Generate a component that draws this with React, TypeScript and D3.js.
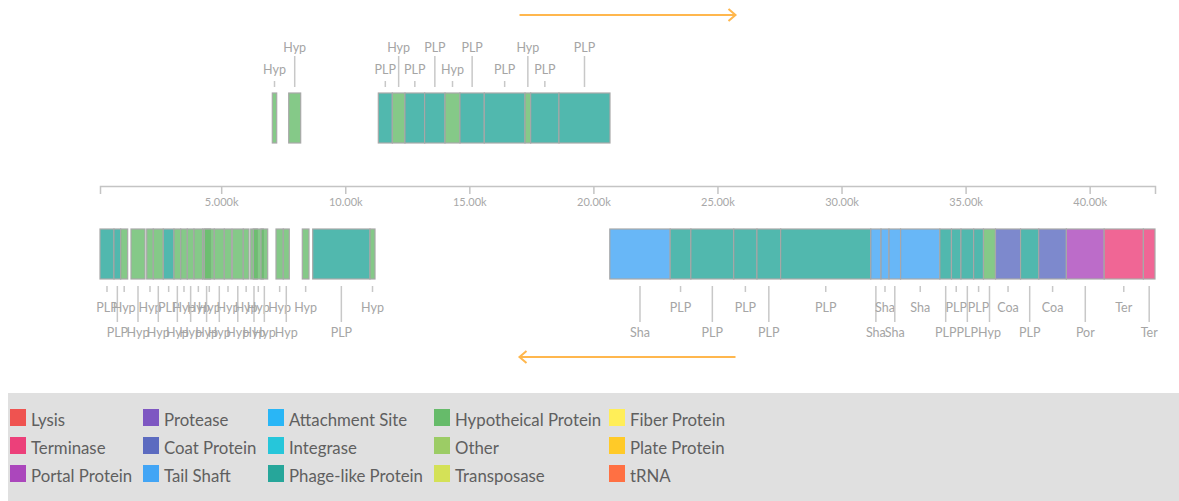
import React, { useEffect, useRef } from 'react';
import * as d3 from 'd3';

// genome span (bp)
const genomeStart = 116;
const genomeEnd = 42633;

// forward strand genes
const fwdStart = [7060, 7721, 11332, 11896, 12407, 13201, 14020, 14624, 15603, 17244, 17473, 18614];
const fwdEnd = [7237, 8204, 11896, 12407, 13201, 14020, 14624, 15603, 17244, 17473, 18614, 20669];
const fwdType = ['hyp', 'hyp', 'plp', 'hyp', 'plp', 'plp', 'hyp', 'plp', 'plp', 'hyp', 'plp', 'plp'];

// reverse strand genes
const revStart = [
  116, 680, 950, 1365, 1998, 2264, 2667, 3098, 3368, 3634, 3904, 4255, 4319, 4722, 5125, 5448, 5891, 6189, 6294, 6604,
  7209, 7503, 8269, 8688, 10997,
  20661, 23095, 23929, 25658, 26593, 27548, 31179, 31590, 31913, 32380, 33964, 34431, 34814, 35326, 35721, 36205,
  37216, 37950, 39062, 40585, 42165,
];
const revEnd = [
  680, 950, 1232, 1930, 2264, 2667, 3098, 3368, 3634, 3904, 4255, 4569, 4722, 5125, 5424, 5891, 6121, 6455, 6697, 6874,
  7503, 7745, 8539, 10997, 11199,
  23095, 23929, 25658, 26593, 27548, 31179, 31590, 31913, 32380, 33964, 34431, 34814, 35326, 35721, 36205, 37216,
  37950, 39062, 40585, 42165, 42633,
];
const revType = [
  'plp', 'plp', 'hyp', 'hyp', 'hyp', 'hyp', 'plp', 'hyp', 'hyp', 'hyp', 'hyp', 'hyp', 'hyp', 'hyp', 'hyp', 'hyp', 'hyp',
  'hyp', 'hyp', 'hyp', 'hyp', 'hyp', 'hyp', 'plp', 'hyp',
  'sha', 'plp', 'plp', 'plp', 'plp', 'plp', 'sha', 'sha', 'sha', 'sha', 'plp', 'plp', 'plp', 'plp', 'hyp', 'coa',
  'plp', 'coa', 'por', 'ter', 'ter',
];

// legend
const legendNames = [
  'Lysis', 'Terminase', 'Portal Protein',
  'Protease', 'Coat Protein', 'Tail Shaft',
  'Attachment Site', 'Integrase', 'Phage-like Protein',
  'Hypotheical Protein', 'Other', 'Transposase',
  'Fiber Protein', 'Plate Protein', 'tRNA',
];
const legendColors = [
  '#EF5350', '#EC407A', '#AB47BC',
  '#7E57C2', '#5C6BC0', '#42A5F5',
  '#29B6F6', '#26C6DA', '#26A69A',
  '#66BB6A', '#9CCC65', '#D4E157',
  '#FFEE58', '#FFCA28', '#FF7043',
];

// gene type -> legend entry + short label
const typeLegend: Record<string, string> = {
  hyp: 'Hypotheical Protein',
  plp: 'Phage-like Protein',
  sha: 'Tail Shaft',
  coa: 'Coat Protein',
  por: 'Portal Protein',
  ter: 'Terminase',
};
const typeLabel: Record<string, string> = {
  hyp: 'Hyp', plp: 'PLP', sha: 'Sha', coa: 'Coa', por: 'Por', ter: 'Ter',
};

const FONT = 'Lato, "Open Sans", sans-serif';
const W = 1179;
const H = 501;

const colorOf = (t: string) => legendColors[legendNames.indexOf(typeLegend[t])];

const App = () => {
  const axisRef = useRef<SVGGElement>(null);

  const x = d3.scaleLinear().domain([genomeStart, genomeEnd]).range([100, 1155]);

  useEffect(() => {
    const g = d3.select(axisRef.current);
    g.selectAll('*').remove();
    g.call(d3.axisBottom(x).tickSize(8).tickPadding(4).tickFormat(d3.format('.4s') as any));
    g.select('.domain').attr('stroke', '#c4c4c4').attr('stroke-width', 1.5);
    g.selectAll('.tick line').attr('stroke', '#c4c4c4').attr('stroke-width', 1.5);
    g.selectAll('.tick text').attr('fill', '#a8a8a8').attr('font-size', 11).attr('font-family', FONT);
  }, []);

  const fwd = fwdStart.map((s, i) => ({ s, e: fwdEnd[i], t: fwdType[i] }));
  const rev = revStart.map((s, i) => ({ s, e: revEnd[i], t: revType[i] }));

  const mid = (x.range()[0] + x.range()[1]) / 2;
  const arrowHalf = 108;
  const arrowColor = '#FFB74D';

  const legendCols = [10, 143, 268, 434, 609];

  return (
    <svg width={W} height={H} style={{ position: 'absolute', left: 0, top: 0 }} fontFamily={FONT}>
      {/* direction arrows */}
      <g stroke={arrowColor} strokeWidth={2} fill="none">
        <line x1={mid - arrowHalf} x2={mid + arrowHalf} y1={15} y2={15} />
        <polyline points={`${mid + arrowHalf - 7},9 ${mid + arrowHalf},15 ${mid + arrowHalf - 7},21`} />
        <line x1={mid - arrowHalf} x2={mid + arrowHalf} y1={357} y2={357} />
        <polyline points={`${mid - arrowHalf + 7},351 ${mid - arrowHalf},357 ${mid - arrowHalf + 7},363`} />
      </g>

      {/* forward strand */}
      <g>
        {fwd.map((d, i) => {
          const cx = (x(d.s) + x(d.e)) / 2;
          const far = i % 2 === 1;
          return (
            <g key={'fl' + i}>
              <line x1={cx} x2={cx} y1={far ? 56 : 81} y2={87} stroke="#c8c8c8" strokeWidth={1.5} />
              <text x={cx} y={far ? 51.5 : 74} textAnchor="middle" fontSize={12.5} fill="#a5a5a5">
                {typeLabel[d.t]}
              </text>
            </g>
          );
        })}
        {fwd.map((d, i) => (
          <rect key={'f' + i} x={x(d.s)} y={93} width={x(d.e) - x(d.s)} height={50}
            fill={colorOf(d.t)} fillOpacity={0.8} stroke="#a8a8a8" strokeWidth={1.2} />
        ))}
      </g>

      <g ref={axisRef} transform="translate(0,186)" />

      {/* reverse strand */}
      <g>
        {rev.map((d, i) => (
          <rect key={'r' + i} x={x(d.s)} y={229} width={x(d.e) - x(d.s)} height={50}
            fill={colorOf(d.t)} fillOpacity={0.8} stroke="#a8a8a8" strokeWidth={1.2} />
        ))}
        {rev.map((d, i) => {
          const cx = (x(d.s) + x(d.e)) / 2;
          const far = i % 2 === 1;
          return (
            <g key={'rl' + i}>
              <line x1={cx} x2={cx} y1={286} y2={far ? 322 : 292} stroke="#c8c8c8" strokeWidth={1.5} />
              <text x={cx} y={far ? 336.5 : 311.5} textAnchor="middle" fontSize={12.5} fill="#a5a5a5">
                {typeLabel[d.t]}
              </text>
            </g>
          );
        })}
      </g>

      {/* legend */}
      <rect x={8} y={393} width={W - 8} height={H - 393} fill="#e0e0e0" />
      {legendNames.map((name, i) => {
        const col = Math.floor(i / 3);
        const row = i % 3;
        const lx = legendCols[col];
        const by = 426 + row * 28;
        return (
          <g key={name}>
            <rect x={lx} y={by - 17} width={16} height={17} fill={legendColors[i]} />
            <text x={lx + 21} y={by} fontSize={16.8} fill="#5f5f5f">{name}</text>
          </g>
        );
      })}
    </svg>
  );
};

export default App;
